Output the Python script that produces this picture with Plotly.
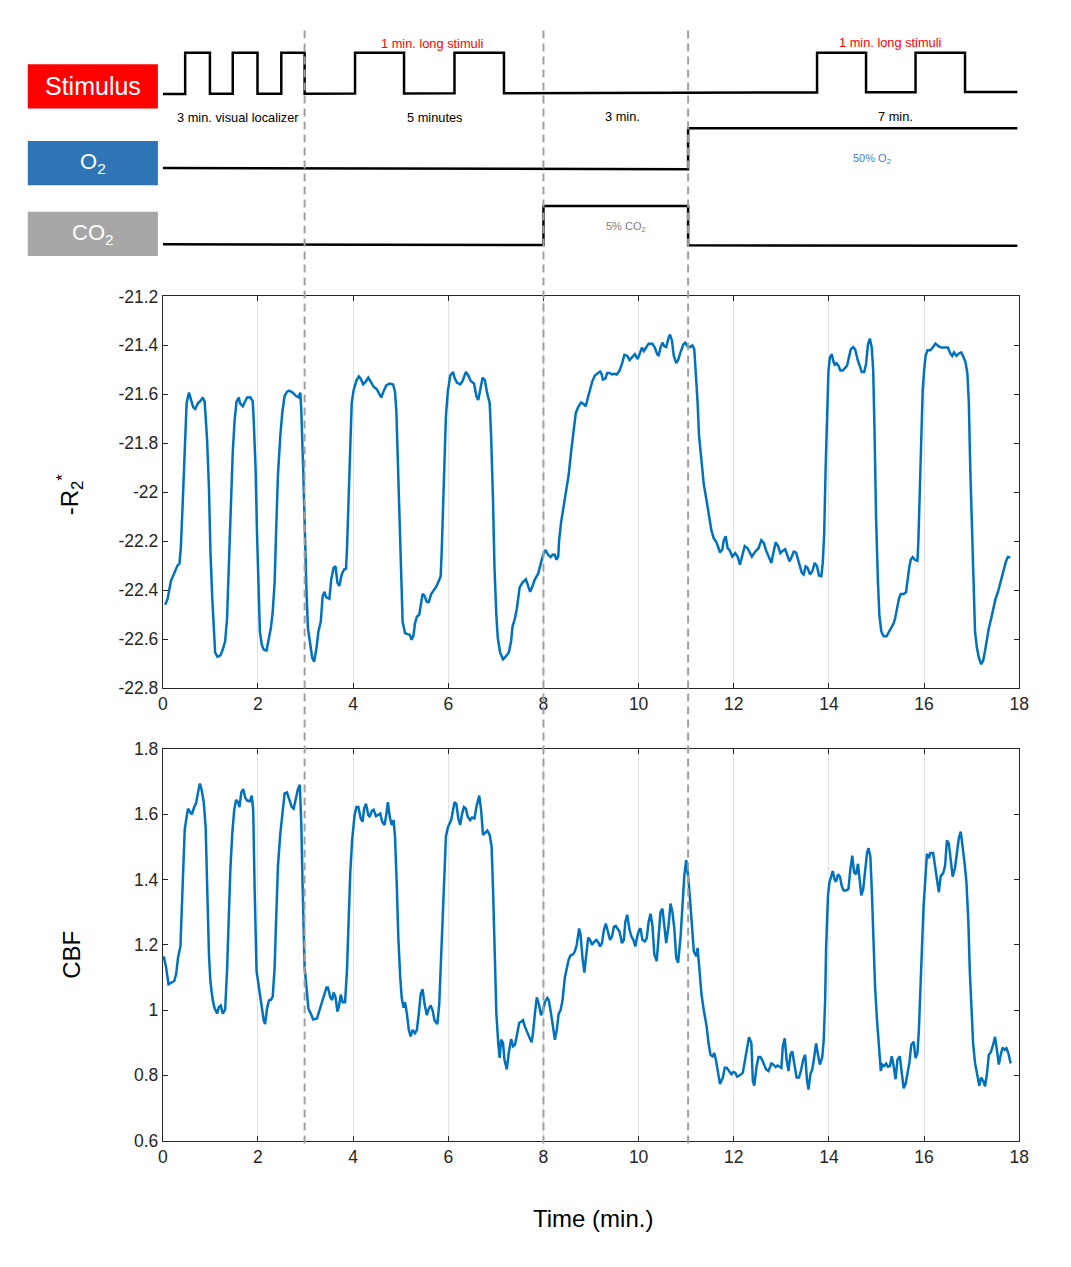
import plotly.graph_objects as go

# page coordinates below are those of the 1071x1267 reference; the figure is placed
# inside the page's default 8px body margin and kept small enough to never overflow.
OFF = 8
W, H = 1040, 1236

# ---------------- data ----------------
r2_t = [0.05, 0.10, 0.17, 0.23, 0.31, 0.35, 0.38, 0.42, 0.46, 0.50, 0.55, 0.59, 0.64, 0.68, 0.74, 0.79, 0.84, 0.88, 0.93, 0.97,
        1.00, 1.04, 1.07, 1.10, 1.15, 1.21, 1.26, 1.31, 1.35, 1.38, 1.43, 1.47, 1.51, 1.55, 1.60, 1.62, 1.68, 1.73, 1.77, 1.84,
        1.89, 1.91, 1.95, 1.98, 2.01, 2.04, 2.08, 2.12, 2.18, 2.22, 2.27, 2.31, 2.35, 2.38, 2.42, 2.47, 2.51, 2.56, 2.61, 2.66,
        2.73, 2.80, 2.85, 2.89, 2.91, 2.95, 2.98, 3.02, 3.05, 3.10, 3.14, 3.18, 3.23, 3.27, 3.32, 3.36, 3.40, 3.43, 3.50, 3.54,
        3.59, 3.63, 3.67, 3.71, 3.76, 3.81, 3.85, 3.87, 3.90, 3.94, 3.97, 4.01, 4.07, 4.12, 4.16, 4.21, 4.26, 4.32, 4.37, 4.43,
        4.50, 4.54, 4.59, 4.65, 4.70, 4.77, 4.84, 4.88, 4.91, 4.94, 4.97, 5.01, 5.04, 5.09, 5.14, 5.19, 5.23, 5.27, 5.30, 5.34,
        5.39, 5.42, 5.46, 5.50, 5.55, 5.59, 5.64, 5.70, 5.75, 5.80, 5.84, 5.86, 5.89, 5.92, 5.95, 5.99, 6.04, 6.10,
        6.13, 6.18, 6.25, 6.30, 6.37, 6.42, 6.47, 6.54, 6.59, 6.63, 6.68, 6.72, 6.77, 6.81, 6.87, 6.90, 6.94, 6.97, 7.01, 7.04,
        7.09, 7.15, 7.20, 7.27, 7.32, 7.35, 7.40, 7.44, 7.50, 7.56, 7.63, 7.67, 7.72, 7.77, 7.82, 7.89, 7.95, 7.99, 8.04, 8.10,
        8.15, 8.19, 8.24, 8.27, 8.31, 8.33, 8.37, 8.42, 8.47, 8.53, 8.58, 8.64, 8.68, 8.73, 8.79, 8.84, 8.89, 8.93, 8.98, 9.03,
        9.08, 9.14, 9.19, 9.22, 9.25, 9.30, 9.34, 9.39, 9.44, 9.49, 9.54, 9.60, 9.65, 9.70, 9.76, 9.81, 9.87, 9.92, 9.98, 10.03,
        10.07, 10.11, 10.16, 10.21, 10.29, 10.34, 10.39, 10.42, 10.46, 10.50, 10.54, 10.58, 10.63, 10.66, 10.70, 10.74, 10.79,
        10.83, 10.89, 10.94, 10.98, 11.03, 11.08, 11.13, 11.17, 11.20, 11.24, 11.27, 11.32, 11.37, 11.43, 11.48, 11.53, 11.58,
        11.63, 11.67, 11.71, 11.76, 11.79, 11.83, 11.87,
        11.91, 11.97, 12.03, 12.08, 12.13, 12.19, 12.23, 12.29, 12.34, 12.38, 12.45, 12.52, 12.58, 12.63, 12.68, 12.74, 12.79,
        12.83, 12.88, 12.93, 12.98, 13.03, 13.08, 13.13, 13.17, 13.22, 13.26, 13.31, 13.36, 13.39, 13.43, 13.47, 13.51, 13.55,
        13.60, 13.65, 13.70, 13.75, 13.79, 13.84, 13.87, 13.90, 13.93, 13.96, 13.99, 14.02, 14.06, 14.09, 14.12, 14.16, 14.20,
        14.24, 14.29, 14.34, 14.38, 14.42, 14.46, 14.51, 14.55, 14.60, 14.64, 14.69, 14.74, 14.78, 14.82, 14.86, 14.90, 14.93,
        14.96, 14.99, 15.03, 15.06, 15.10, 15.15, 15.21, 15.26, 15.31, 15.36, 15.39, 15.43, 15.47, 15.51, 15.57, 15.62, 15.65,
        15.69, 15.72, 15.76, 15.81, 15.86, 15.88, 15.91, 15.94, 15.97, 16.00, 16.03, 16.07, 16.13, 16.18, 16.24, 16.30, 16.36,
        16.43, 16.50, 16.55, 16.59, 16.63, 16.68, 16.73, 16.78, 16.83, 16.87, 16.91, 16.94, 16.97, 17.01, 17.04, 17.07, 17.11,
        17.15, 17.20, 17.24, 17.28, 17.32, 17.36, 17.41, 17.46, 17.50, 17.55, 17.60, 17.64, 17.68, 17.72, 17.76, 17.81]
r2_v = [-22.460, -22.436, -22.363, -22.336, -22.299, -22.292, -22.223, -22.036, -21.836, -21.636, -21.593, -21.616, -21.653,
        -21.660, -21.636, -21.627, -21.613, -21.631, -21.783, -21.983, -22.236, -22.436, -22.583, -22.656, -22.673, -22.667,
        -22.643, -22.609, -22.516, -22.343, -22.063, -21.836, -21.703, -21.629, -21.613, -21.636, -21.649, -21.627, -21.613,
        -21.612, -21.629, -21.703, -21.903, -22.169, -22.409, -22.569, -22.623, -22.643, -22.647, -22.609, -22.556, -22.489,
        -22.369, -22.169, -21.929, -21.769, -21.676, -21.607, -21.589, -21.585, -21.593, -21.607, -21.612, -21.593, -21.663,
        -21.903, -22.169, -22.409, -22.556, -22.636, -22.676, -22.693, -22.636, -22.569, -22.529, -22.423, -22.407, -22.429,
        -22.436, -22.356, -22.309, -22.303, -22.369, -22.383, -22.336, -22.316, -22.313, -22.236, -22.036, -21.769, -21.636,
        -21.583, -21.543, -21.527, -21.536, -21.559, -21.549, -21.532, -21.549, -21.569, -21.580, -21.596, -21.613, -21.583,
        -21.563, -21.556, -21.560, -21.589, -21.676, -21.876, -22.103, -22.369, -22.529, -22.576, -22.580, -22.583, -22.603,
        -22.583, -22.536, -22.509, -22.500, -22.463, -22.416, -22.423, -22.449, -22.449, -22.416, -22.399, -22.385, -22.363,
        -22.343, -22.249, -22.063, -21.836, -21.689, -21.589, -21.523, -21.509,
        -21.532, -21.552, -21.559, -21.545, -21.509, -21.523, -21.545, -21.556, -21.607, -21.623, -21.569, -21.532, -21.543,
        -21.589, -21.636, -21.769, -22.036, -22.303, -22.503, -22.596, -22.656, -22.683, -22.673, -22.656, -22.609, -22.549,
        -22.516, -22.476, -22.389, -22.369, -22.356, -22.383, -22.407, -22.383, -22.356, -22.332, -22.289, -22.256, -22.236,
        -22.256, -22.265, -22.256, -22.256, -22.276, -22.263, -22.196, -22.123, -22.063, -21.996, -21.929, -21.836, -21.743,
        -21.676, -21.652, -21.633, -21.639, -21.649, -21.616, -21.576, -21.545, -21.523, -21.516, -21.507, -21.516, -21.540,
        -21.536, -21.513, -21.513, -21.519, -21.516, -21.519, -21.503, -21.476, -21.439, -21.443, -21.460, -21.449, -21.436,
        -21.456, -21.433, -21.409, -21.423, -21.409, -21.393, -21.393, -21.409, -21.436, -21.443, -21.409, -21.389, -21.404,
        -21.407, -21.369, -21.356, -21.380, -21.443, -21.473, -21.460, -21.423, -21.396, -21.389, -21.404, -21.407, -21.400,
        -21.416, -21.503, -21.636, -21.769, -21.876, -21.969, -22.036, -22.103, -22.156, -22.189, -22.203, -22.223, -22.247,
        -22.233, -22.196, -22.180, -22.229,
        -22.236, -22.263, -22.249, -22.263, -22.296, -22.249, -22.220, -22.229, -22.249, -22.263, -22.243, -22.229, -22.196,
        -22.207, -22.239, -22.269, -22.289, -22.249, -22.205, -22.220, -22.249, -22.239, -22.233, -22.260, -22.283, -22.263,
        -22.243, -22.247, -22.276, -22.303, -22.329, -22.336, -22.303, -22.309, -22.336, -22.323, -22.289, -22.303, -22.340,
        -22.343, -22.289, -22.169, -21.903, -21.663, -21.503, -21.449, -21.436, -21.463, -21.479, -21.473, -21.483, -21.503,
        -21.503, -21.492, -21.483, -21.449, -21.416, -21.407, -21.416, -21.456, -21.483, -21.509, -21.509, -21.476, -21.396,
        -21.372, -21.409, -21.503, -21.769, -22.103, -22.369, -22.503, -22.569, -22.589, -22.589, -22.569, -22.549, -22.536,
        -22.516, -22.476, -22.436, -22.416, -22.416, -22.409, -22.356, -22.303, -22.276, -22.265, -22.277, -22.280, -22.196,
        -21.969, -21.743, -21.583, -21.503, -21.443, -21.420, -21.420, -21.409, -21.393, -21.403, -21.409, -21.409, -21.409,
        -21.433, -21.443, -21.429, -21.443, -21.433, -21.429, -21.449, -21.469, -21.516, -21.636, -21.903, -22.196, -22.436,
        -22.569, -22.636, -22.676, -22.703, -22.689, -22.649, -22.596, -22.556, -22.516, -22.463, -22.436, -22.409, -22.369,
        -22.343, -22.316, -22.283, -22.265, -22.267]

cbf_t = [0.02, 0.07, 0.12, 0.17, 0.24, 0.28, 0.32, 0.37, 0.39, 0.43, 0.46, 0.50, 0.53, 0.57, 0.61, 0.66, 0.70, 0.74, 0.78,
         0.82, 0.86, 0.90, 0.93, 0.97, 1.00, 1.04, 1.08, 1.14, 1.18, 1.22, 1.26, 1.31, 1.35, 1.38, 1.42, 1.46, 1.50, 1.54,
         1.58, 1.61, 1.65, 1.69, 1.73, 1.77, 1.83, 1.87, 1.90, 1.93, 1.97, 2.01, 2.05, 2.09, 2.12, 2.15, 2.19, 2.23, 2.27,
         2.31, 2.35, 2.38, 2.42, 2.47, 2.52, 2.56, 2.61, 2.66, 2.71, 2.75, 2.80, 2.84, 2.88, 2.91, 2.94, 2.98, 3.02, 3.06,
         3.11, 3.16, 3.24, 3.29, 3.35, 3.40, 3.44, 3.47, 3.52, 3.56, 3.59, 3.63, 3.67, 3.70, 3.74, 3.78, 3.83, 3.87, 3.90,
         3.94, 3.98, 4.03, 4.07, 4.11, 4.16, 4.20, 4.23, 4.27, 4.32, 4.35, 4.39, 4.43, 4.48, 4.52, 4.57, 4.61, 4.66, 4.70,
         4.73, 4.77, 4.81, 4.85, 4.88, 4.92, 4.95, 4.99, 5.02, 5.06, 5.09, 5.13, 5.17, 5.21, 5.25, 5.30, 5.34, 5.38, 5.42,
         5.46, 5.50, 5.55, 5.59, 5.63, 5.67, 5.71, 5.77, 5.81, 5.84, 5.88, 5.92, 5.95, 5.99,
         6.06, 6.10, 6.13, 6.17, 6.21, 6.25, 6.29, 6.33, 6.37, 6.41, 6.46, 6.50, 6.55, 6.59, 6.65, 6.69, 6.73, 6.77, 6.82,
         6.87, 6.91, 6.94, 6.97, 7.01, 7.05, 7.08, 7.11, 7.15, 7.18, 7.23, 7.27, 7.32, 7.36, 7.40, 7.45, 7.49, 7.53, 7.57,
         7.61, 7.66, 7.71, 7.75, 7.78, 7.82, 7.86, 7.91, 7.95, 7.99, 8.03, 8.08, 8.11, 8.16, 8.20, 8.24, 8.28, 8.32, 8.36,
         8.40, 8.45, 8.49, 8.53, 8.57, 8.62, 8.66, 8.70, 8.75, 8.78, 8.82, 8.86, 8.90, 8.94, 8.98, 9.02, 9.06, 9.11, 9.15,
         9.19, 9.23, 9.27, 9.31, 9.35, 9.40, 9.44, 9.48, 9.52, 9.56, 9.60, 9.65, 9.69, 9.72, 9.76, 9.81, 9.85, 9.89, 9.93,
         9.97, 10.01, 10.04, 10.08, 10.13, 10.17, 10.21, 10.25, 10.29, 10.33, 10.38, 10.42, 10.46, 10.50, 10.54, 10.58,
         10.63, 10.67, 10.71, 10.75, 10.79, 10.83, 10.88, 10.92, 10.96, 11.00, 11.04, 11.08, 11.12, 11.16, 11.21, 11.24,
         11.28, 11.32, 11.37, 11.43, 11.47, 11.51, 11.55, 11.59, 11.63, 11.67, 11.71, 11.77, 11.81, 11.85,
         11.91, 11.95, 11.99, 12.03, 12.07, 12.13, 12.19, 12.23, 12.27, 12.30, 12.32, 12.37, 12.40, 12.43, 12.48, 12.52,
         12.56, 12.60, 12.64, 12.68, 12.73, 12.77, 12.79, 12.83, 12.88, 12.92, 12.96, 13.00, 13.03, 13.07, 13.11, 13.15,
         13.19, 13.23, 13.28, 13.32, 13.37, 13.41, 13.46, 13.50, 13.54, 13.57, 13.61, 13.65, 13.69, 13.73, 13.77, 13.81,
         13.86, 13.89, 13.92, 13.94, 13.98, 14.01, 14.05, 14.08, 14.12, 14.15, 14.19, 14.23, 14.27, 14.31, 14.36, 14.41,
         14.45, 14.49, 14.53, 14.57, 14.61, 14.64, 14.68, 14.72, 14.76, 14.80, 14.83, 14.87, 14.90, 14.93, 14.97, 15.01,
         15.05, 15.09, 15.12, 15.16, 15.20, 15.24, 15.28, 15.32, 15.36, 15.40, 15.44, 15.49, 15.53, 15.57, 15.61, 15.65,
         15.69, 15.73, 15.78, 15.82, 15.86, 15.89, 15.93, 15.96, 15.99, 16.03, 16.06, 16.10, 16.13, 16.19, 16.23, 16.27,
         16.31, 16.35, 16.40, 16.44, 16.48, 16.52, 16.56, 16.60, 16.65, 16.69, 16.73, 16.77, 16.81, 16.85, 16.89, 16.93,
         16.96, 17.00, 17.03, 17.07, 17.11, 17.16, 17.20, 17.24, 17.28, 17.32, 17.36, 17.40, 17.45, 17.49, 17.53, 17.57,
         17.61, 17.65, 17.69, 17.73, 17.77, 17.82]
cbf_v = [1.165, 1.130, 1.079, 1.084, 1.089, 1.110, 1.160, 1.195, 1.270, 1.421, 1.552, 1.592, 1.617, 1.607, 1.600, 1.622,
         1.634, 1.667, 1.694, 1.672, 1.637, 1.562, 1.371, 1.170, 1.089, 1.039, 1.009, 0.989, 1.009, 1.014, 0.989, 1.001,
         1.120, 1.290, 1.431, 1.542, 1.612, 1.644, 1.637, 1.622, 1.667, 1.677, 1.652, 1.642, 1.640, 1.657, 1.612, 1.371,
         1.120, 1.079, 1.039, 0.999, 0.969, 0.957, 1.004, 1.029, 1.031, 1.041, 1.130, 1.270, 1.441, 1.542, 1.607, 1.664,
         1.667, 1.642, 1.622, 1.617, 1.647, 1.677, 1.690, 1.572, 1.371, 1.130, 1.069, 1.004, 0.989, 0.971, 0.974, 0.999,
         1.024, 1.049, 1.069, 1.069, 1.039, 1.031, 1.054, 1.039, 0.995, 1.009, 1.047, 1.024, 1.024, 1.120, 1.270, 1.421,
         1.522, 1.597, 1.622, 1.622, 1.587, 1.577, 1.617, 1.632, 1.597, 1.592, 1.610, 1.614, 1.594, 1.597, 1.602, 1.577,
         1.567, 1.602, 1.637, 1.592, 1.567, 1.582, 1.532, 1.371, 1.220, 1.100, 1.039, 1.007, 1.024, 0.989, 0.939, 0.919,
         0.939, 0.929, 0.939, 0.989, 1.049, 1.064, 1.019, 0.984, 1.004, 1.014, 0.999, 0.969, 0.957, 1.019, 1.140, 1.300,
         1.441, 1.532, 1.559,
         1.582, 1.612, 1.637, 1.632, 1.587, 1.567, 1.602, 1.622, 1.617, 1.592, 1.582, 1.590, 1.587, 1.622, 1.657, 1.612,
         1.537, 1.542, 1.550, 1.537, 1.502, 1.371, 1.170, 0.989, 0.898, 0.853, 0.909, 0.899, 0.848, 0.818, 0.868, 0.911,
         0.889, 0.893, 0.929, 0.961, 0.964, 0.969, 0.949, 0.929, 0.914, 0.901, 0.929, 0.989, 1.039, 1.014, 0.984, 0.999,
         1.024, 1.037, 1.031, 0.989, 0.939, 0.909, 0.939, 0.989, 0.999, 1.029, 1.100, 1.130, 1.155, 1.168, 1.170, 1.180,
         1.200, 1.250, 1.230, 1.160, 1.115, 1.170, 1.222, 1.215, 1.200, 1.208, 1.215, 1.208, 1.195, 1.205, 1.245, 1.265,
         1.240, 1.215, 1.225, 1.255, 1.258, 1.250, 1.240, 1.205, 1.215, 1.270, 1.292, 1.245, 1.225, 1.215, 1.195, 1.225,
         1.245, 1.250, 1.215, 1.210, 1.220, 1.270, 1.295, 1.260, 1.170, 1.150, 1.230, 1.300, 1.311, 1.250, 1.205, 1.260,
         1.326, 1.300, 1.250, 1.160, 1.145, 1.220, 1.331, 1.411, 1.459, 1.411, 1.341, 1.260, 1.180, 1.165, 1.190, 1.120,
         1.049, 0.999, 0.949, 0.898, 0.863, 0.858, 0.868, 0.843, 0.803, 0.773, 0.793, 0.823, 0.823,
         0.813, 0.803, 0.810, 0.808, 0.796, 0.800, 0.808, 0.838, 0.868, 0.898, 0.917, 0.898, 0.783, 0.768, 0.828, 0.856,
         0.856, 0.846, 0.833, 0.818, 0.813, 0.828, 0.836, 0.833, 0.825, 0.830, 0.826, 0.823, 0.888, 0.913, 0.848, 0.813,
         0.863, 0.873, 0.828, 0.793, 0.793, 0.813, 0.848, 0.863, 0.783, 0.756, 0.803, 0.818, 0.856, 0.898, 0.863, 0.833,
         0.856, 0.908, 1.029, 1.190, 1.351, 1.391, 1.411, 1.426, 1.399, 1.393, 1.416, 1.409, 1.379, 1.366, 1.366, 1.371,
         1.431, 1.473, 1.421, 1.416, 1.448, 1.401, 1.351, 1.371, 1.431, 1.481, 1.496, 1.471, 1.371, 1.220, 1.069, 0.969,
         0.888, 0.813, 0.833, 0.828, 0.836, 0.826, 0.828, 0.858, 0.828, 0.788, 0.848, 0.858, 0.808, 0.760, 0.773, 0.808,
         0.838, 0.893, 0.903, 0.853, 0.868, 0.939, 1.069, 1.210, 1.321, 1.431, 1.479, 1.465, 1.481, 1.481, 1.441, 1.386,
         1.361, 1.411, 1.419, 1.441, 1.520, 1.510, 1.451, 1.409, 1.436, 1.481, 1.527, 1.547, 1.504, 1.451, 1.391, 1.270,
         1.120, 0.969, 0.898, 0.838, 0.803, 0.768, 0.793, 0.783, 0.766, 0.803, 0.863, 0.870, 0.893, 0.918, 0.878, 0.833,
         0.863, 0.885, 0.878, 0.883, 0.868, 0.836]

x_tickvals = [0, 2, 4, 6, 8, 10, 12, 14, 16, 18]
x_ticktext = ["0", "2", "4", "6", "8", "10", "12", "14", "16", "18"]
r2_tickvals = [-22.8, -22.6, -22.4, -22.2, -22.0, -21.8, -21.6, -21.4, -21.2]
r2_ticktext = ["-22.8", "-22.6", "-22.4", "-22.2", "-22", "-21.8", "-21.6", "-21.4", "-21.2"]
cbf_tickvals = [0.6, 0.8, 1.0, 1.2, 1.4, 1.6, 1.8]
cbf_ticktext = ["0.6", "0.8", "1", "1.2", "1.4", "1.6", "1.8"]

# protocol timeline (minutes)
run_end = 17.96
phase_bounds = [2.98, 8.0, 11.04]
stim_on = [(0.47, 0.99), (1.47, 1.99), (2.49, 2.98), (4.04, 5.07), (6.13, 7.17), (13.75, 14.78), (15.82, 16.86)]
co2_on = [(8.0, 11.04)]
o2_on = [(11.04, run_end)]

# ---------------- helpers ----------------
def px(x):
    return (x - OFF) / W

def py(y):
    return 1 - (y - OFF) / H

XDOM = [px(160), px(1029)]
FONT = "Liberation Sans, Arial, Helvetica, sans-serif"
BLUE = "#0072BD"
AXC = "#262626"


def step_path(intervals, base, amp, end, drift=0.0):
    def lvl(t):
        return base + drift * t / end
    xs, ys = [0.0], [lvl(0.0)]
    for a, b in intervals:
        xs += [a, a]
        ys += [lvl(a), base + amp]
        if b < end:
            xs += [b, b]
            ys += [base + amp, lvl(b)]
        else:
            xs.append(end)
            ys.append(base + amp)
    if xs[-1] < end:
        xs.append(end)
        ys.append(lvl(end))
    return xs, ys


fig = go.Figure()

# data traces
fig.add_trace(go.Scatter(x=r2_t, y=r2_v, mode="lines", line=dict(color=BLUE, width=2.5),
                         xaxis="x", yaxis="y", showlegend=False))
fig.add_trace(go.Scatter(x=cbf_t, y=cbf_v, mode="lines", line=dict(color=BLUE, width=2.5),
                         xaxis="x2", yaxis="y2", showlegend=False))

# schematic rows (y3 axis: 1 unit = 40 px)
sx, sy = step_path(stim_on, 4.62, 1.05, run_end, drift=0.05)
ox, oy = step_path(o2_on, 2.74, 1.01, run_end, drift=-0.05)
cx, cy = step_path(co2_on, 0.80, 0.97, run_end, drift=-0.04)
for xs, ys in [(sx, sy), (ox, oy), (cx, cy)]:
    fig.add_trace(go.Scatter(x=xs, y=ys, mode="lines", line=dict(color="black", width=2.5),
                             xaxis="x3", yaxis="y3", showlegend=False, hoverinfo="skip"))

TICKF = dict(family=FONT, size=17.5, color=AXC)
common_x = dict(range=[0, 18], domain=XDOM, showgrid=True, gridcolor="#e3e3e3", gridwidth=1,
                tickvals=x_tickvals, ticktext=x_ticktext, ticks="inside", ticklen=5, tickcolor=AXC,
                showline=True, linecolor=AXC, linewidth=1, mirror="ticks", zeroline=False, tickfont=TICKF)
common_y = dict(showgrid=False, ticks="inside", ticklen=5, tickcolor=AXC, showline=True, linecolor=AXC,
                linewidth=1, mirror="ticks", zeroline=False, tickfont=TICKF)

fig.update_layout(
    width=W, height=H, margin=dict(l=0, r=0, t=0, b=0),
    paper_bgcolor="white", plot_bgcolor="white",
    xaxis=dict(common_x, anchor="y"),
    yaxis=dict(common_y, domain=[py(689), py(291)], range=[-22.8, -21.2],
               tickvals=r2_tickvals, ticktext=r2_ticktext, anchor="x"),
    xaxis2=dict(common_x, anchor="y2"),
    yaxis2=dict(common_y, domain=[py(1149), py(751)], range=[0.6, 1.8],
                tickvals=cbf_tickvals, ticktext=cbf_ticktext, anchor="x2"),
    xaxis3=dict(range=[0, 18], domain=XDOM, visible=False, anchor="y3"),
    yaxis3=dict(range=[0, 6.5], domain=[py(270), py(10)], visible=False, anchor="x3"),
)

# dashed phase boundaries
for t in phase_bounds:
    fig.add_shape(type="line", xref="x", yref="paper", x0=t, x1=t, y0=py(1152), y1=py(20),
                  line=dict(color="#a0a0a0", width=2, dash="8px,5px"), layer="above")

# coloured labels on the left
boxes = [("Stimulus", "#FF0000", 55, 100, 25),
         ("O<sub>2</sub>", "#2E75B6", 133, 178, 22),
         ("CO<sub>2</sub>", "#A6A6A6", 205, 250, 22)]
for label, col, y0, y1, fs in boxes:
    fig.add_shape(type="rect", xref="paper", yref="paper", x0=px(23), x1=px(155), y0=py(y1), y1=py(y0),
                  fillcolor=col, line=dict(width=0), layer="below")
    fig.add_annotation(x=px(89), y=py((y0 + y1) / 2), xref="paper", yref="paper", text=label,
                       showarrow=False, font=dict(family=FONT, size=fs, color="white"),
                       xanchor="center", yanchor="middle")

# schematic texts
texts = [("3 min. visual localizer", 236, 109, "black", 12.8),
         ("5 minutes", 436, 109, "black", 12.8),
         ("3 min.", 626, 108, "black", 12.8),
         ("7 min.", 903, 108, "black", 12.8),
         ("1 min. long stimuli", 433, 34, "#FF0000", 12.8),
         ("1 min. long stimuli", 898, 33, "#FF0000", 12.8),
         ("50% O<sub>2</sub>", 880, 151, "#4A7CC9", 11),
         ("5% CO<sub>2</sub>", 630, 220, "#808080", 11)]
for txt, x, y, col, fs in texts:
    fig.add_annotation(x=px(x), y=py(y), xref="paper", yref="paper", text=txt, showarrow=False,
                       font=dict(family=FONT, size=fs, color=col), xanchor="center", yanchor="middle")

# axis titles
fig.add_annotation(x=px(66), y=py(492), xref="paper", yref="paper", text="-R<sub>2</sub><sup>*</sup>",
                   showarrow=False, textangle=-90, font=dict(family=FONT, size=24, color="black"),
                   xanchor="center", yanchor="middle")
fig.add_annotation(x=px(67), y=py(960), xref="paper", yref="paper", text="CBF",
                   showarrow=False, textangle=-90, font=dict(family=FONT, size=24, color="black"),
                   xanchor="center", yanchor="middle")
fig.add_annotation(x=px(596), y=py(1228), xref="paper", yref="paper", text="Time (min.)",
                   showarrow=False, font=dict(family=FONT, size=24, color="black"),
                   xanchor="center", yanchor="middle")

fig.write_html("out.html", config={"displayModeBar": False})
